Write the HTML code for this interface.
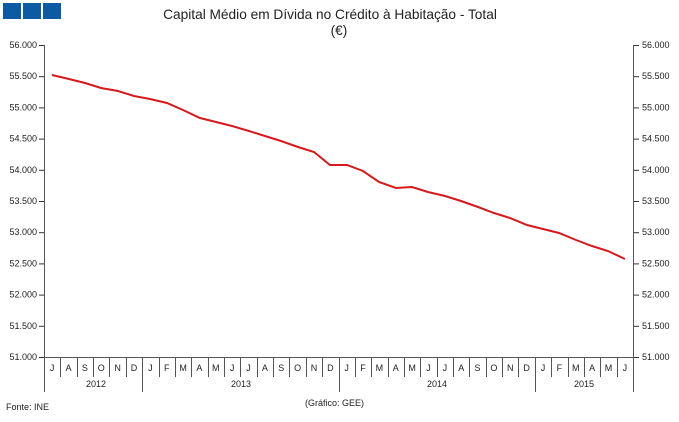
<!DOCTYPE html>
<html><head><meta charset="utf-8"><style>
body{margin:0;background:#fff;width:679px;height:417px;overflow:hidden;font-family:"Liberation Sans",Arial,sans-serif}
</style></head><body>
<svg width="679" height="417" xmlns="http://www.w3.org/2000/svg" font-family="Liberation Sans, Arial, sans-serif">
<rect x="3" y="3" width="18" height="16" fill="#0b5aa3"/>
<rect x="23" y="3" width="18" height="16" fill="#0b5aa3"/>
<rect x="43" y="3" width="18" height="16" fill="#0b5aa3"/>
<text x="330" y="19" font-size="13.7" text-anchor="middle" fill="#222">Capital Médio em Dívida no Crédito à Habitação - Total</text>
<text x="339" y="35" font-size="13.7" text-anchor="middle" fill="#222">(€)</text>
<g stroke="#555" stroke-width="1">
<line x1="44.5" y1="45" x2="44.5" y2="392"/>
<line x1="633.5" y1="45" x2="633.5" y2="392"/>
<line x1="44" y1="357.5" x2="634" y2="357.5"/>
</g>
<g id="ticks" font-size="9" fill="#222"></g>
<polyline fill="none" stroke="#d7191c" stroke-width="2" points="52,75 69,79 85,83 101,88 118,91 134,96 150,99 167,103 183,110 200,118 216,122 232,126 249,131 265,136 281,141 298,147 314,152 330,165 347,165 363,171 379,182 396,188 412,187 428,192 445,196 461,201 478,207 494,213 510,218 527,225 543,229 559,233 576,240 592,246 608,251 625,259"/>
<text x="96" y="387" font-size="9" text-anchor="middle" fill="#222">2012</text>
<text x="241" y="387" font-size="9" text-anchor="middle" fill="#222">2013</text>
<text x="437" y="387" font-size="9" text-anchor="middle" fill="#222">2014</text>
<text x="584" y="387" font-size="9" text-anchor="middle" fill="#222">2015</text>
<text x="6" y="410" font-size="9" fill="#222">Fonte: INE</text>
<text x="305" y="406" font-size="9" fill="#222">(Gráfico: GEE)</text>
</svg>
<script>
var g=document.getElementById('ticks'),h='';
var vals=['56.000','55.500','55.000','54.500','54.000','53.500','53.000','52.500','52.000','51.500','51.000'];
for(var i=0;i<11;i++){var y=45+i*31.2;
h+='<line x1="39" x2="44" y1="'+(y+.5)+'" y2="'+(y+.5)+'" stroke="#333"/>';
h+='<line x1="634" x2="639" y1="'+(y+.5)+'" y2="'+(y+.5)+'" stroke="#333"/>';
h+='<text x="37" y="'+(y+3)+'" text-anchor="end">'+vals[i]+'</text>';
h+='<text x="642" y="'+(y+3)+'">'+vals[i]+'</text>';}
var m='JASONDJFMAMJJASONDJFMAMJJASONDJFMAMJ',w=589/36;
for(var k=0;k<36;k++){var cx=44+w*(k+.5);
h+='<text x="'+cx+'" y="371" text-anchor="middle">'+m[k]+'</text>';
if(k>0){var xx=Math.round(44+w*k)+.5;var yr=(k==6||k==18||k==30);
h+='<line x1="'+xx+'" x2="'+xx+'" y1="357" y2="'+(yr?392:377)+'" stroke="#555"/>';}}
g.innerHTML=h;
</script>
</body></html>
